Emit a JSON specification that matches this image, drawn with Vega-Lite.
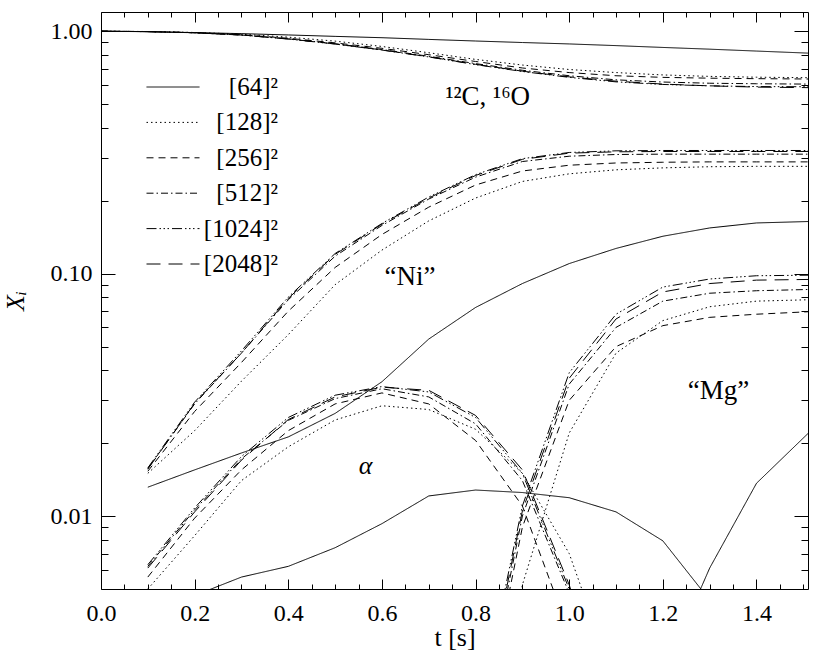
{
 "$schema": "https://vega.github.io/schema/vega-lite/v6.json",
 "width": 707, "height": 577,
 "autosize": {"type": "none"},
 "padding": {"left": 101, "top": 12, "right": 22, "bottom": 73},
 "config": {
   "view": {"stroke": "black", "strokeWidth": 1},
   "font": "Liberation Serif",
   "axis": {"grid": false, "domain": false, "tickColor": "black", "labelColor": "black", "titleColor": "black", "labelFont": "Liberation Serif", "titleFont": "Liberation Serif", "labelFontSize": 24, "titleFontSize": 26, "titleFontWeight": "normal", "labelFlush": false, "labelOverlap": false, "labelBound": false, "tickWidth": 1}
 },
 "datasets": {
  "sim": [
   {"r":"[64]²","t":0,"CO":1.0,"Ni":null,"He":null,"Mg":null},
   {"r":"[64]²","t":0.1,"CO":0.995,"Ni":0.01315,"He":null,"Mg":null},
   {"r":"[64]²","t":0.2,"CO":0.987,"Ni":0.0155,"He":0.0047,"Mg":null},
   {"r":"[64]²","t":0.3,"CO":0.977,"Ni":0.0182,"He":0.0056,"Mg":null},
   {"r":"[64]²","t":0.4,"CO":0.965,"Ni":0.0212,"He":0.0062,"Mg":null},
   {"r":"[64]²","t":0.5,"CO":0.952,"Ni":0.0265,"He":0.0074,"Mg":null},
   {"r":"[64]²","t":0.6,"CO":0.940,"Ni":0.0358,"He":0.0093,"Mg":null},
   {"r":"[64]²","t":0.7,"CO":0.925,"Ni":0.0537,"He":0.0121,"Mg":null},
   {"r":"[64]²","t":0.8,"CO":0.911,"Ni":0.0725,"He":0.0128,"Mg":null},
   {"r":"[64]²","t":0.9,"CO":0.898,"Ni":0.091,"He":0.0125,"Mg":null},
   {"r":"[64]²","t":1.0,"CO":0.886,"Ni":0.110,"He":0.0119,"Mg":null},
   {"r":"[64]²","t":1.1,"CO":0.872,"Ni":0.127,"He":0.0104,"Mg":null},
   {"r":"[64]²","t":1.2,"CO":0.857,"Ni":0.1426,"He":0.0079,"Mg":0.0022},
   {"r":"[64]²","t":1.3,"CO":0.843,"Ni":0.1543,"He":0.0045,"Mg":0.0061},
   {"r":"[64]²","t":1.4,"CO":0.828,"Ni":0.1618,"He":null,"Mg":0.01365},
   {"r":"[64]²","t":1.51,"CO":0.812,"Ni":0.164,"He":null,"Mg":0.0219},

   {"r":"[128]²","t":0,"CO":1.0,"Ni":null,"He":null,"Mg":null},
   {"r":"[128]²","t":0.1,"CO":0.997,"Ni":0.0150,"He":0.0050,"Mg":null},
   {"r":"[128]²","t":0.2,"CO":0.988,"Ni":0.0225,"He":0.0083,"Mg":null},
   {"r":"[128]²","t":0.3,"CO":0.972,"Ni":0.036,"He":0.0140,"Mg":null},
   {"r":"[128]²","t":0.4,"CO":0.945,"Ni":0.056,"He":0.0193,"Mg":null},
   {"r":"[128]²","t":0.5,"CO":0.91,"Ni":0.090,"He":0.0249,"Mg":null},
   {"r":"[128]²","t":0.6,"CO":0.865,"Ni":0.125,"He":0.0285,"Mg":null},
   {"r":"[128]²","t":0.7,"CO":0.815,"Ni":0.165,"He":0.0275,"Mg":null},
   {"r":"[128]²","t":0.8,"CO":0.765,"Ni":0.205,"He":0.0228,"Mg":0.0003},
   {"r":"[128]²","t":0.9,"CO":0.725,"Ni":0.240,"He":0.0150,"Mg":0.0052},
   {"r":"[128]²","t":1.0,"CO":0.695,"Ni":0.258,"He":0.0070,"Mg":0.022},
   {"r":"[128]²","t":1.1,"CO":0.675,"Ni":0.268,"He":0.0020,"Mg":0.047},
   {"r":"[128]²","t":1.2,"CO":0.660,"Ni":0.273,"He":null,"Mg":0.064},
   {"r":"[128]²","t":1.3,"CO":0.651,"Ni":0.276,"He":null,"Mg":0.073},
   {"r":"[128]²","t":1.4,"CO":0.646,"Ni":0.277,"He":null,"Mg":0.077},
   {"r":"[128]²","t":1.51,"CO":0.643,"Ni":0.277,"He":null,"Mg":0.078},

   {"r":"[256]²","t":0,"CO":1.0,"Ni":null,"He":null,"Mg":null},
   {"r":"[256]²","t":0.1,"CO":0.996,"Ni":0.0153,"He":0.0056,"Mg":null},
   {"r":"[256]²","t":0.2,"CO":0.986,"Ni":0.0270,"He":0.0098,"Mg":null},
   {"r":"[256]²","t":0.3,"CO":0.967,"Ni":0.043,"He":0.0155,"Mg":null},
   {"r":"[256]²","t":0.4,"CO":0.935,"Ni":0.070,"He":0.0225,"Mg":null},
   {"r":"[256]²","t":0.5,"CO":0.895,"Ni":0.106,"He":0.0290,"Mg":null},
   {"r":"[256]²","t":0.6,"CO":0.850,"Ni":0.145,"He":0.0322,"Mg":null},
   {"r":"[256]²","t":0.7,"CO":0.800,"Ni":0.188,"He":0.0290,"Mg":null},
   {"r":"[256]²","t":0.8,"CO":0.750,"Ni":0.232,"He":0.0205,"Mg":0.0010},
   {"r":"[256]²","t":0.9,"CO":0.705,"Ni":0.265,"He":0.0110,"Mg":0.0090},
   {"r":"[256]²","t":1.0,"CO":0.675,"Ni":0.280,"He":0.0033,"Mg":0.030},
   {"r":"[256]²","t":1.1,"CO":0.655,"Ni":0.286,"He":null,"Mg":0.050},
   {"r":"[256]²","t":1.2,"CO":0.645,"Ni":0.288,"He":null,"Mg":0.061},
   {"r":"[256]²","t":1.3,"CO":0.640,"Ni":0.289,"He":null,"Mg":0.066},
   {"r":"[256]²","t":1.4,"CO":0.637,"Ni":0.289,"He":null,"Mg":0.068},
   {"r":"[256]²","t":1.51,"CO":0.635,"Ni":0.289,"He":null,"Mg":0.0696},

   {"r":"[512]²","t":0,"CO":1.0,"Ni":null,"He":null,"Mg":null},
   {"r":"[512]²","t":0.1,"CO":0.996,"Ni":0.0157,"He":0.0062,"Mg":null},
   {"r":"[512]²","t":0.2,"CO":0.985,"Ni":0.0290,"He":0.0106,"Mg":null},
   {"r":"[512]²","t":0.3,"CO":0.965,"Ni":0.047,"He":0.0172,"Mg":null},
   {"r":"[512]²","t":0.4,"CO":0.930,"Ni":0.078,"He":0.0248,"Mg":null},
   {"r":"[512]²","t":0.5,"CO":0.888,"Ni":0.118,"He":0.0305,"Mg":null},
   {"r":"[512]²","t":0.6,"CO":0.840,"Ni":0.158,"He":0.0335,"Mg":null},
   {"r":"[512]²","t":0.7,"CO":0.788,"Ni":0.203,"He":0.0310,"Mg":null},
   {"r":"[512]²","t":0.8,"CO":0.735,"Ni":0.250,"He":0.0240,"Mg":0.0011},
   {"r":"[512]²","t":0.9,"CO":0.690,"Ni":0.290,"He":0.0140,"Mg":0.0100},
   {"r":"[512]²","t":1.0,"CO":0.655,"Ni":0.305,"He":0.0048,"Mg":0.035},
   {"r":"[512]²","t":1.1,"CO":0.630,"Ni":0.310,"He":0.0012,"Mg":0.060},
   {"r":"[512]²","t":1.2,"CO":0.617,"Ni":0.311,"He":null,"Mg":0.077},
   {"r":"[512]²","t":1.3,"CO":0.610,"Ni":0.311,"He":null,"Mg":0.083},
   {"r":"[512]²","t":1.4,"CO":0.607,"Ni":0.311,"He":null,"Mg":0.085},
   {"r":"[512]²","t":1.51,"CO":0.605,"Ni":0.311,"He":null,"Mg":0.086},

   {"r":"[1024]²","t":0,"CO":1.0,"Ni":null,"He":null,"Mg":null},
   {"r":"[1024]²","t":0.1,"CO":0.996,"Ni":0.0158,"He":0.0063,"Mg":null},
   {"r":"[1024]²","t":0.2,"CO":0.985,"Ni":0.0295,"He":0.0108,"Mg":null},
   {"r":"[1024]²","t":0.3,"CO":0.964,"Ni":0.048,"He":0.0176,"Mg":null},
   {"r":"[1024]²","t":0.4,"CO":0.928,"Ni":0.080,"He":0.0255,"Mg":null},
   {"r":"[1024]²","t":0.5,"CO":0.885,"Ni":0.121,"He":0.0315,"Mg":null},
   {"r":"[1024]²","t":0.6,"CO":0.836,"Ni":0.161,"He":0.0342,"Mg":null},
   {"r":"[1024]²","t":0.7,"CO":0.783,"Ni":0.207,"He":0.0325,"Mg":null},
   {"r":"[1024]²","t":0.8,"CO":0.728,"Ni":0.256,"He":0.0255,"Mg":0.0013},
   {"r":"[1024]²","t":0.9,"CO":0.682,"Ni":0.298,"He":0.0150,"Mg":0.0110},
   {"r":"[1024]²","t":1.0,"CO":0.645,"Ni":0.316,"He":0.0050,"Mg":0.039},
   {"r":"[1024]²","t":1.1,"CO":0.618,"Ni":0.321,"He":0.0012,"Mg":0.068},
   {"r":"[1024]²","t":1.2,"CO":0.603,"Ni":0.322,"He":null,"Mg":0.088},
   {"r":"[1024]²","t":1.3,"CO":0.595,"Ni":0.322,"He":null,"Mg":0.095},
   {"r":"[1024]²","t":1.4,"CO":0.591,"Ni":0.322,"He":null,"Mg":0.098},
   {"r":"[1024]²","t":1.51,"CO":0.590,"Ni":0.322,"He":null,"Mg":0.0985},

   {"r":"[2048]²","t":0,"CO":1.0,"Ni":null,"He":null,"Mg":null},
   {"r":"[2048]²","t":0.1,"CO":0.996,"Ni":0.0156,"He":0.0061,"Mg":null},
   {"r":"[2048]²","t":0.2,"CO":0.985,"Ni":0.0292,"He":0.0104,"Mg":null},
   {"r":"[2048]²","t":0.3,"CO":0.964,"Ni":0.047,"He":0.0170,"Mg":null},
   {"r":"[2048]²","t":0.4,"CO":0.929,"Ni":0.079,"He":0.0250,"Mg":null},
   {"r":"[2048]²","t":0.5,"CO":0.886,"Ni":0.120,"He":0.0310,"Mg":null},
   {"r":"[2048]²","t":0.6,"CO":0.837,"Ni":0.160,"He":0.0340,"Mg":null},
   {"r":"[2048]²","t":0.7,"CO":0.784,"Ni":0.205,"He":0.0330,"Mg":null},
   {"r":"[2048]²","t":0.8,"CO":0.730,"Ni":0.254,"He":0.0260,"Mg":0.0012},
   {"r":"[2048]²","t":0.9,"CO":0.684,"Ni":0.296,"He":0.0155,"Mg":0.0105},
   {"r":"[2048]²","t":1.0,"CO":0.648,"Ni":0.314,"He":0.0052,"Mg":0.037},
   {"r":"[2048]²","t":1.1,"CO":0.622,"Ni":0.318,"He":0.0013,"Mg":0.065},
   {"r":"[2048]²","t":1.2,"CO":0.605,"Ni":0.319,"He":null,"Mg":0.084},
   {"r":"[2048]²","t":1.3,"CO":0.595,"Ni":0.319,"He":null,"Mg":0.091},
   {"r":"[2048]²","t":1.4,"CO":0.588,"Ni":0.319,"He":null,"Mg":0.094},
   {"r":"[2048]²","t":1.51,"CO":0.585,"Ni":0.319,"He":null,"Mg":0.0946}
  ],
  "ann": [
   {"lab":"¹²C, ¹⁶O","t":0.826,"X":0.533},
   {"lab":"“Ni”","t":0.66,"X":0.0966},
   {"lab":"“Mg”","t":1.319,"X":0.0328}
  ],
  "greek": [
   {"lab":"α","t":0.565,"X":0.0161}
  ]
 },
 "resolve": {"axis": {"x": "independent", "y": "independent"}},
 "layer": [
  {
   "data": {"name": "sim"},
   "transform": [{"fold": ["CO","Ni","He","Mg"], "as": ["s","X"]}],
   "mark": {"type": "line", "clip": true, "strokeWidth": 1, "color": "black"},
   "encoding": {
    "x": {"field": "t", "type": "quantitative", "scale": {"domain": [0, 1.51], "nice": false, "zero": false},
          "axis": {"orient": "bottom", "values": [0,0.2,0.4,0.6,0.8,1.0,1.2,1.4], "format": ".1f", "tickSize": -10, "labelPadding": 22, "title": "t [s]", "titlePadding": -1}},
    "y": {"field": "X", "type": "quantitative", "scale": {"type": "log", "domain": [0.005, 1.2], "nice": false},
          "axis": {"orient": "left", "values": [0.01,0.1,1], "format": ".2f", "tickSize": -14, "labelPadding": 23, "title": "Xᵢ", "titleFontStyle": "italic", "titlePadding": 22}},
    "strokeDash": {"field": "r", "type": "nominal",
       "scale": {"domain": ["[64]²","[128]²","[256]²","[512]²","[1024]²","[2048]²"],
                 "range": [[1,0],[1.5,3],[7,5],[7,3,1.5,3],[10,3,1.5,2.5,1.5,2.5,1.5,3],[14,8]]},
       "legend": {"orient": "none", "legendX": 45, "legendY": 60, "title": null, "symbolType": "stroke", "symbolSize": 2809, "symbolStrokeWidth": 1, "symbolStrokeColor": "black", "labelFontSize": 25, "labelFont": "Liberation Serif", "labelColor": "black", "labelAlign": "right", "labelOffset": 78, "clipHeight": 30, "rowPadding": 5.4, "padding": 0, "labelLimit": 0}},
    "detail": {"field": "s"}
   }
  },
  {
   "data": {"name": "ann"},
   "mark": {"type": "text", "font": "Liberation Serif", "fontSize": 27, "color": "black", "baseline": "middle", "align": "center"},
   "encoding": {
    "x": {"field": "t", "type": "quantitative", "scale": {"domain": [0, 1.51], "nice": false, "zero": false}, "axis": null},
    "y": {"field": "X", "type": "quantitative", "scale": {"type": "log", "domain": [0.005, 1.2], "nice": false}, "axis": null},
    "text": {"field": "lab"}
   }
  },
  {
   "data": {"name": "greek"},
   "mark": {"type": "text", "font": "Liberation Serif", "fontSize": 26, "fontStyle": "italic", "color": "black", "baseline": "middle", "align": "center"},
   "encoding": {
    "x": {"field": "t", "type": "quantitative", "scale": {"domain": [0, 1.51], "nice": false, "zero": false}, "axis": null},
    "y": {"field": "X", "type": "quantitative", "scale": {"type": "log", "domain": [0.005, 1.2], "nice": false}, "axis": null},
    "text": {"field": "lab"}
   }
  },
  {
   "data": {"name": "ann"},
   "mark": {"type": "point", "opacity": 0},
   "encoding": {
    "x": {"field": "t", "type": "quantitative", "scale": {"domain": [0, 1.51], "nice": false, "zero": false},
          "axis": {"orient": "bottom", "values": [0.05,0.1,0.15,0.25,0.3,0.35,0.45,0.5,0.55,0.65,0.7,0.75,0.85,0.9,0.95,1.05,1.1,1.15,1.25,1.3,1.35,1.45,1.5], "tickSize": -5, "labels": false, "title": null}},
    "y": {"field": "X", "type": "quantitative", "scale": {"type": "log", "domain": [0.005, 1.2], "nice": false},
          "axis": {"orient": "left", "values": [0.006,0.007,0.008,0.009,0.02,0.03,0.04,0.05,0.06,0.07,0.08,0.09,0.2,0.3,0.4,0.5,0.6,0.7,0.8,0.9], "tickSize": -7, "labels": false, "title": null}}
   }
  },
  {
   "data": {"name": "ann"},
   "mark": {"type": "point", "opacity": 0},
   "encoding": {
    "x": {"field": "t", "type": "quantitative", "scale": {"domain": [0, 1.51], "nice": false, "zero": false},
          "axis": {"orient": "top", "values": [0,0.2,0.4,0.6,0.8,1.0,1.2,1.4], "tickSize": -10, "labels": false, "title": null}},
    "y": {"field": "X", "type": "quantitative", "scale": {"type": "log", "domain": [0.005, 1.2], "nice": false},
          "axis": {"orient": "right", "values": [0.01,0.1,1], "tickSize": -14, "labels": false, "title": null}}
   }
  },
  {
   "data": {"name": "ann"},
   "mark": {"type": "point", "opacity": 0},
   "encoding": {
    "x": {"field": "t", "type": "quantitative", "scale": {"domain": [0, 1.51], "nice": false, "zero": false},
          "axis": {"orient": "top", "values": [0.05,0.1,0.15,0.25,0.3,0.35,0.45,0.5,0.55,0.65,0.7,0.75,0.85,0.9,0.95,1.05,1.1,1.15,1.25,1.3,1.35,1.45,1.5], "tickSize": -5, "labels": false, "title": null}},
    "y": {"field": "X", "type": "quantitative", "scale": {"type": "log", "domain": [0.005, 1.2], "nice": false},
          "axis": {"orient": "right", "values": [0.006,0.007,0.008,0.009,0.02,0.03,0.04,0.05,0.06,0.07,0.08,0.09,0.2,0.3,0.4,0.5,0.6,0.7,0.8,0.9], "tickSize": -7, "labels": false, "title": null}}
   }
  }
 ]
}
